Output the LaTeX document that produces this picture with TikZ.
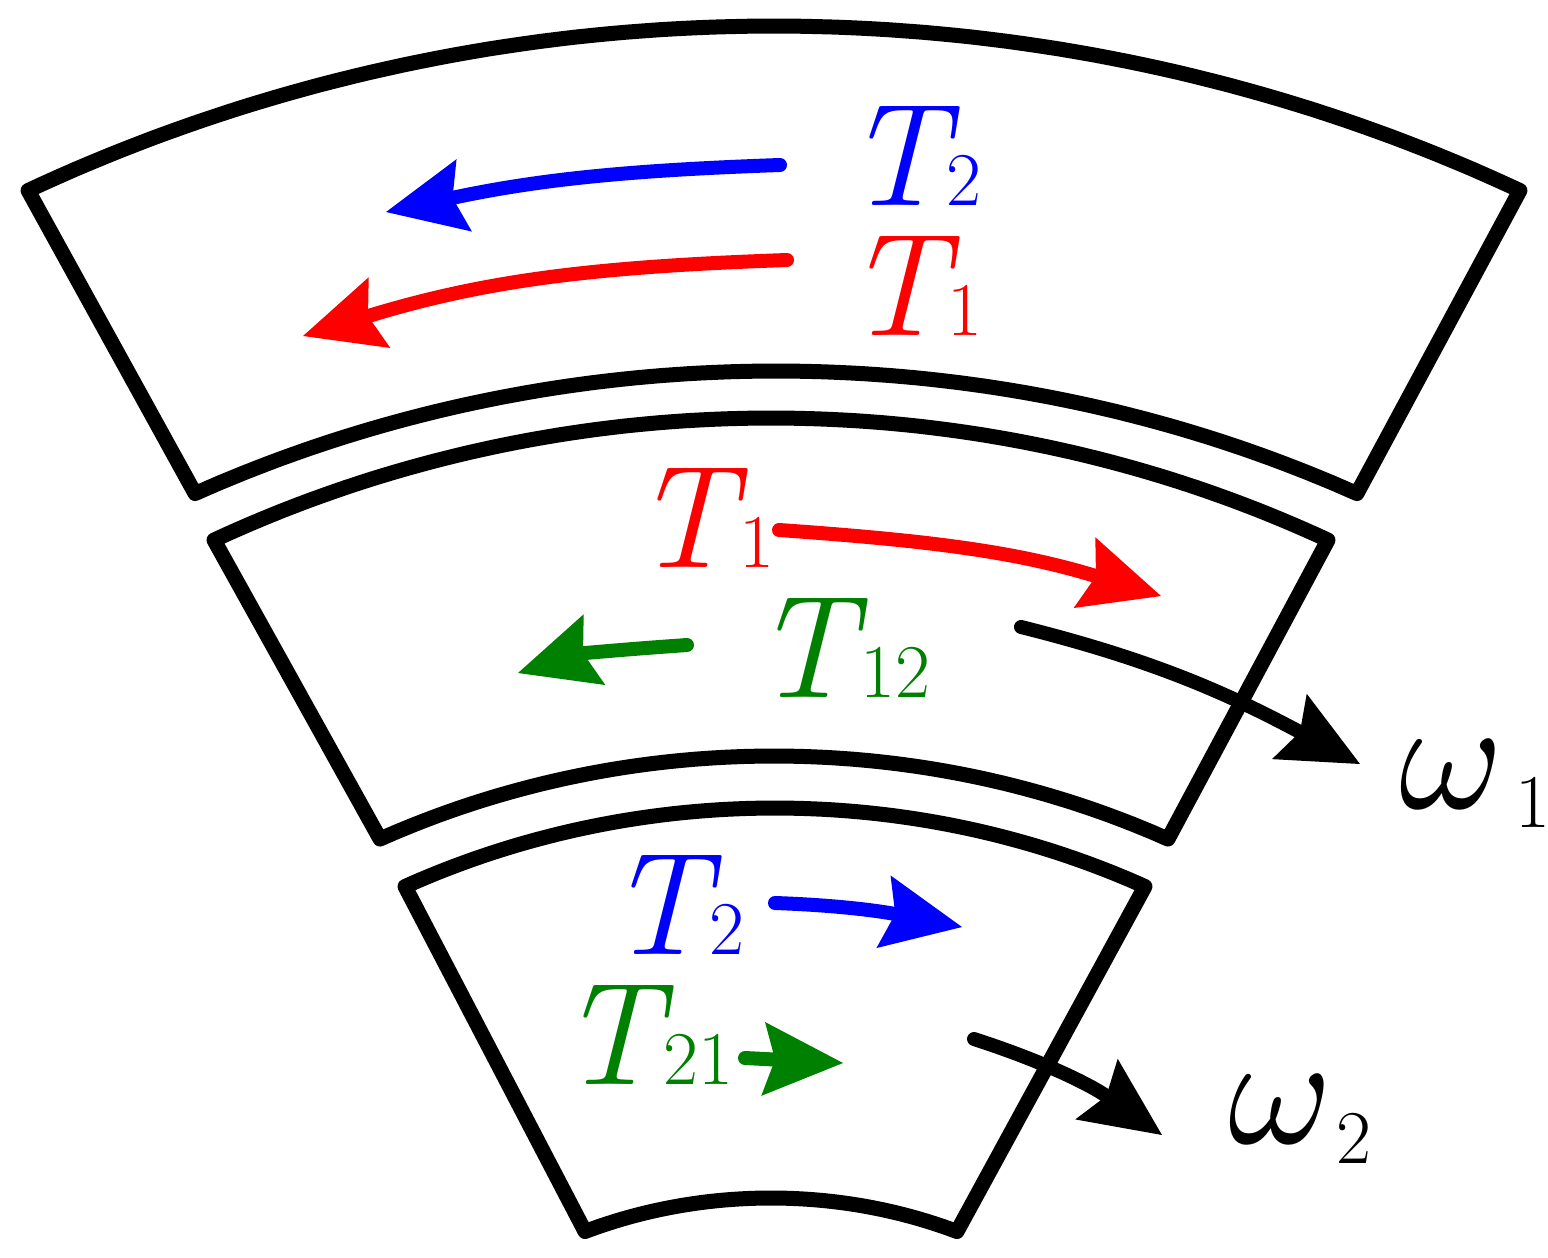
\documentclass[tikz,border=0pt]{standalone}
\usepackage{graphicx}
\usetikzlibrary{arrows.meta}
\definecolor{cblue}{RGB}{0,0,255}
\definecolor{cred}{RGB}{255,0,0}
\definecolor{cgreen}{RGB}{0,128,0}
\newcommand{\Tlab}[2]{\textit{T}\kern#1{\upshape\fontsize{38pt}{38pt}\selectfont #2}}
\newcommand{\Wlab}[3]{\scalebox{7.9}{\fontsize{10pt}{12pt}\selectfont$\omega$}\kern#1\raisebox{#2}{\fontsize{38pt}{38pt}\selectfont #3}}
\begin{document}
\begin{tikzpicture}[x={(0.5pt,0)},y={(0,-0.5pt)},
  sectorline/.style={line width=7.5pt,line join=round,black},
  torque/.style={line width=7pt,line cap=round,
    -{Stealth[length=40pt,width=37pt,inset=6pt,line width=0pt]}},
  lab/.style={inner sep=0pt,outer sep=0pt,anchor=base west,text height=50pt,text depth=0pt,
    font=\fontsize{73pt}{73pt}\selectfont}]
\useasboundingbox (0,0) rectangle (1548,1258);
% sectors
\draw[sectorline]
  plot[domain={180-63.27}:{63.27},samples=90] ({774+1658.5*cos(\x)},{1565-1539*sin(\x)})
  -- plot[domain={63.82}:{180-63.82},samples=90] ({776+1316.8*cos(\x)},{1565-1194*sin(\x)})
  -- cycle;
\draw[sectorline]
  plot[domain={180-63.33}:{63.33},samples=90] ({771+1241*cos(\x)},{1565-1147*sin(\x)})
  -- plot[domain={63.82}:{180-63.82},samples=90] ({774+893*cos(\x)},{1565-809*sin(\x)})
  -- cycle;
\draw[sectorline]
  plot[domain={180-63.68}:{63.68},samples=90] ({775+834.5*cos(\x)},{1565-757*sin(\x)})
  -- plot[domain={65.33}:{180-65.33},samples=90] ({771+445.6*cos(\x)},{1565-367*sin(\x)})
  -- cycle;
% arrow end points
\coordinate (b1s) at (780,165);  \coordinate (b1e) at (386,212);
\coordinate (r1s) at (787,260);  \coordinate (r1e) at (303,336);
\coordinate (r2s) at (779,530);  \coordinate (r2e) at (1161,596);
\coordinate (g1s) at (687,645);  \coordinate (g1e) at (518,673);
\coordinate (b2s) at (775,903);  \coordinate (b2e) at (962,927);
\coordinate (g2s) at (745,1058); \coordinate (g2e) at (843,1063);
\coordinate (w1s) at (1021,627); \coordinate (w1e) at (1360,764);
\coordinate (w2s) at (974,1039); \coordinate (w2e) at (1162,1135);
% arrows
\draw[torque,cblue] (b1s) to[out=182,in=12] (b1e);
\draw[torque,cred] (r1s) to[out=182,in=17] (r1e);
\draw[torque,cred] (r2s) to[out=-4,in=163] (r2e);
\draw[torque,cgreen] (g1s) to[out=184,in=17] (g1e);
\draw[torque,cblue] (b2s) to[out=-2,in=169] (b2e);
\draw[torque,cgreen] (g2s) -- (g2e);
\draw[torque,black] (w1s) to[out=-14,in=152] (w1e);
\draw[torque,black] (w2s) to[out=-18,in=145] (w2e);
% labels
\node[lab,cblue]  (lT2a) at (844,205)  {\Tlab{-6.7pt}{2}};
\node[lab,cred]   (lT1a) at (844,335)  {\Tlab{-6.2pt}{1}};
\node[lab,cred]   (lT1b) at (632,567)  {\Tlab{-4.2pt}{1}};
\node[lab,cgreen] (lT12) at (752,697)  {\Tlab{-3.7pt}{12}};
\node[lab,cblue]  (lT2b) at (606,954)  {\Tlab{-6.2pt}{2}};
\node[lab,cgreen] (lT21) at (558,1084) {\Tlab{-5.2pt}{21}};
\node[lab,text height=34pt] (lw1) at (1399,808)  {\Wlab{6pt}{-9.5pt}{1}};
\node[lab,text height=34pt] (lw2) at (1228,1143) {\Wlab{2pt}{-10pt}{2}};
\end{tikzpicture}
\end{document}
